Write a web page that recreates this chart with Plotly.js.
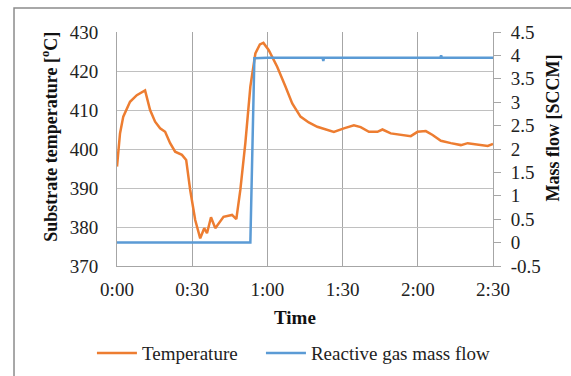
<!DOCTYPE html>
<html>
<head>
<meta charset="utf-8">
<script src="https://cdn.plot.ly/plotly-3.0.1.min.js"></script>
<style>html,body{margin:0;padding:0;background:#fff;}#chart{width:571px;height:376px;}</style>
</head>
<body>
<div id="chart"></div>
<script>
// Time in minutes
const tempTime = [0, 1.2, 2.5, 5.2, 7.9, 10.5, 11.2, 13.2, 15.2, 17.2, 19.2, 21.2, 23.2, 25.9, 27.6, 29.2, 31.2, 33.2, 34.8, 35.9, 37.5, 39.2, 42.5, 45.9, 47.6, 49.2, 51.2, 53.2, 55.2, 57.0, 58.4, 60.5, 63.9, 67.2, 69.9, 73.2, 76.5, 79.9, 83.9, 86.5, 90.5, 94.5, 97.2, 100.5, 103.9, 105.9, 109.2, 114.5, 117.2, 119.9, 123.2, 125.9, 129.2, 133.2, 137.2, 139.9, 143.9, 147.9, 150];
const temperature = [395.5, 404, 408.3, 412.1, 413.8, 414.6, 415, 410, 407, 405.3, 404.4, 401.5, 399.3, 398.5, 397.2, 389.5, 381.8, 377.1, 379.7, 378.4, 382.5, 379.7, 382.6, 383.1, 382, 389.5, 401.5, 416, 424.5, 426.8, 427.2, 425.4, 421.1, 416, 411.7, 408.3, 406.8, 405.7, 404.9, 404.4, 405.3, 406.1, 405.6, 404.4, 404.4, 405, 404, 403.6, 403.3, 404.4, 404.6, 403.6, 402.1, 401.5, 401, 401.5, 401.2, 400.8, 401.3];

const flowTime = [0, 53.2, 54.8, 60, 70, 80, 82.0, 82.3, 82.6, 90, 100, 110, 120, 129.0, 129.3, 129.6, 140, 150];
const massFlow = [0, 0, 3.94, 3.95, 3.95, 3.95, 3.95, 3.88, 3.95, 3.95, 3.95, 3.95, 3.95, 3.95, 4.0, 3.95, 3.95, 3.95];

const xTickVals = [0, 30, 60, 90, 120, 150];
const xTickText = ['0:00', '0:30', '1:00', '1:30', '2:00', '2:30'];
const y2TickVals = [-0.5, 0, 0.5, 1, 1.5, 2, 2.5, 3, 3.5, 4, 4.5];
const y2TickText = ['-0.5', '0', '0.5', '1', '1.5', '2', '2.5', '3', '3.5', '4', '4.5'];

const seriesNames = ['Temperature', 'Reactive gas mass flow'];
const xTitle = 'Time';
const yTitle = 'Substrate temperature [<sup>o</sup>C]';
const y2Title = 'Mass flow [SCCM]';

const font = 'Liberation Serif, Times New Roman, serif';
const tickFont = {family: font, size: 19, color: '#222'};
const titleFont = {family: font, size: 18, color: '#111'};
const legendFont = {family: font, size: 19, color: '#222'};
const traces = [
  {x: tempTime, y: temperature, name: seriesNames[0], type: 'scatter', mode: 'lines',
   line: {color: '#ED7D31', width: 2.5}, yaxis: 'y', legend: 'legend'},
  {x: flowTime, y: massFlow, name: seriesNames[1], type: 'scatter', mode: 'lines',
   line: {color: '#5B9BD5', width: 2.5}, yaxis: 'y2', legend: 'legend2'}
];
const layout = {
  width: 571, height: 376,
  margin: {l: 117, r: 78, t: 32, b: 110},
  paper_bgcolor: '#fff', plot_bgcolor: '#fff',
  font: {family: font, size: 19, color: '#222'},
  showlegend: true,
  legend: {orientation: 'h', xref: 'container', yref: 'container', x: 0.161, xanchor: 'left', y: 0.061, yanchor: 'middle',
           font: legendFont, itemwidth: 40, bgcolor: 'rgba(0,0,0,0)'},
  legend2: {orientation: 'h', xref: 'container', yref: 'container', x: 0.457, xanchor: 'left', y: 0.061, yanchor: 'middle',
           font: legendFont, itemwidth: 40, bgcolor: 'rgba(0,0,0,0)'},
  xaxis: {range: [0, 150], tickvals: xTickVals, ticktext: xTickText, showgrid: true, tickfont: tickFont,
          gridcolor: '#a6a6a6', gridwidth: 1, zeroline: false, showline: true, linecolor: '#a6a6a6',
          ticks: '', ticklen: 0, automargin: false, ticklabelstandoff: 6},
  yaxis: {range: [370, 430], dtick: 10, showgrid: true, gridcolor: '#c0c0c0', gridwidth: 1, tickfont: tickFont,
          zeroline: false, showline: true, linecolor: '#a6a6a6', ticks: '', automargin: false, ticklabelstandoff: 14},
  yaxis2: {range: [-0.5, 4.5], overlaying: 'y', side: 'right', tickvals: y2TickVals, ticktext: y2TickText,
           showgrid: false, zeroline: false, showline: true, linecolor: '#a6a6a6', automargin: false, tickfont: tickFont,
           ticks: 'outside', ticklen: 7, tickcolor: '#a6a6a6', ticklabelstandoff: 6},
  annotations: [
    {text: '<b>' + xTitle + '</b>', xref: 'paper', yref: 'paper', x: 0.473, y: -0.218, xanchor: 'center', yanchor: 'middle', showarrow: false, font: {family: font, size: 19, color: '#111'}},
    {text: '<b>' + yTitle + '</b>', xref: 'paper', yref: 'paper', x: -0.178, y: 0.553, xanchor: 'center', yanchor: 'middle', textangle: -90, showarrow: false, font: titleFont},
    {text: '<b>' + y2Title + '</b>', xref: 'paper', yref: 'paper', x: 1.16, y: 0.588, xanchor: 'center', yanchor: 'middle', textangle: -90, showarrow: false, font: titleFont}
  ],
  shapes: [
    {type: 'rect', xref: 'paper', yref: 'paper', x0: -0.2739, x1: 1.25, y0: -0.55, y1: 1.1026,
     line: {color: '#8c8c8c', width: 1.5}, fillcolor: 'rgba(0,0,0,0)', layer: 'below'}
  ]
};
Plotly.newPlot('chart', traces, layout, {displayModeBar: false, staticPlot: true});
</script>
</body>
</html>
